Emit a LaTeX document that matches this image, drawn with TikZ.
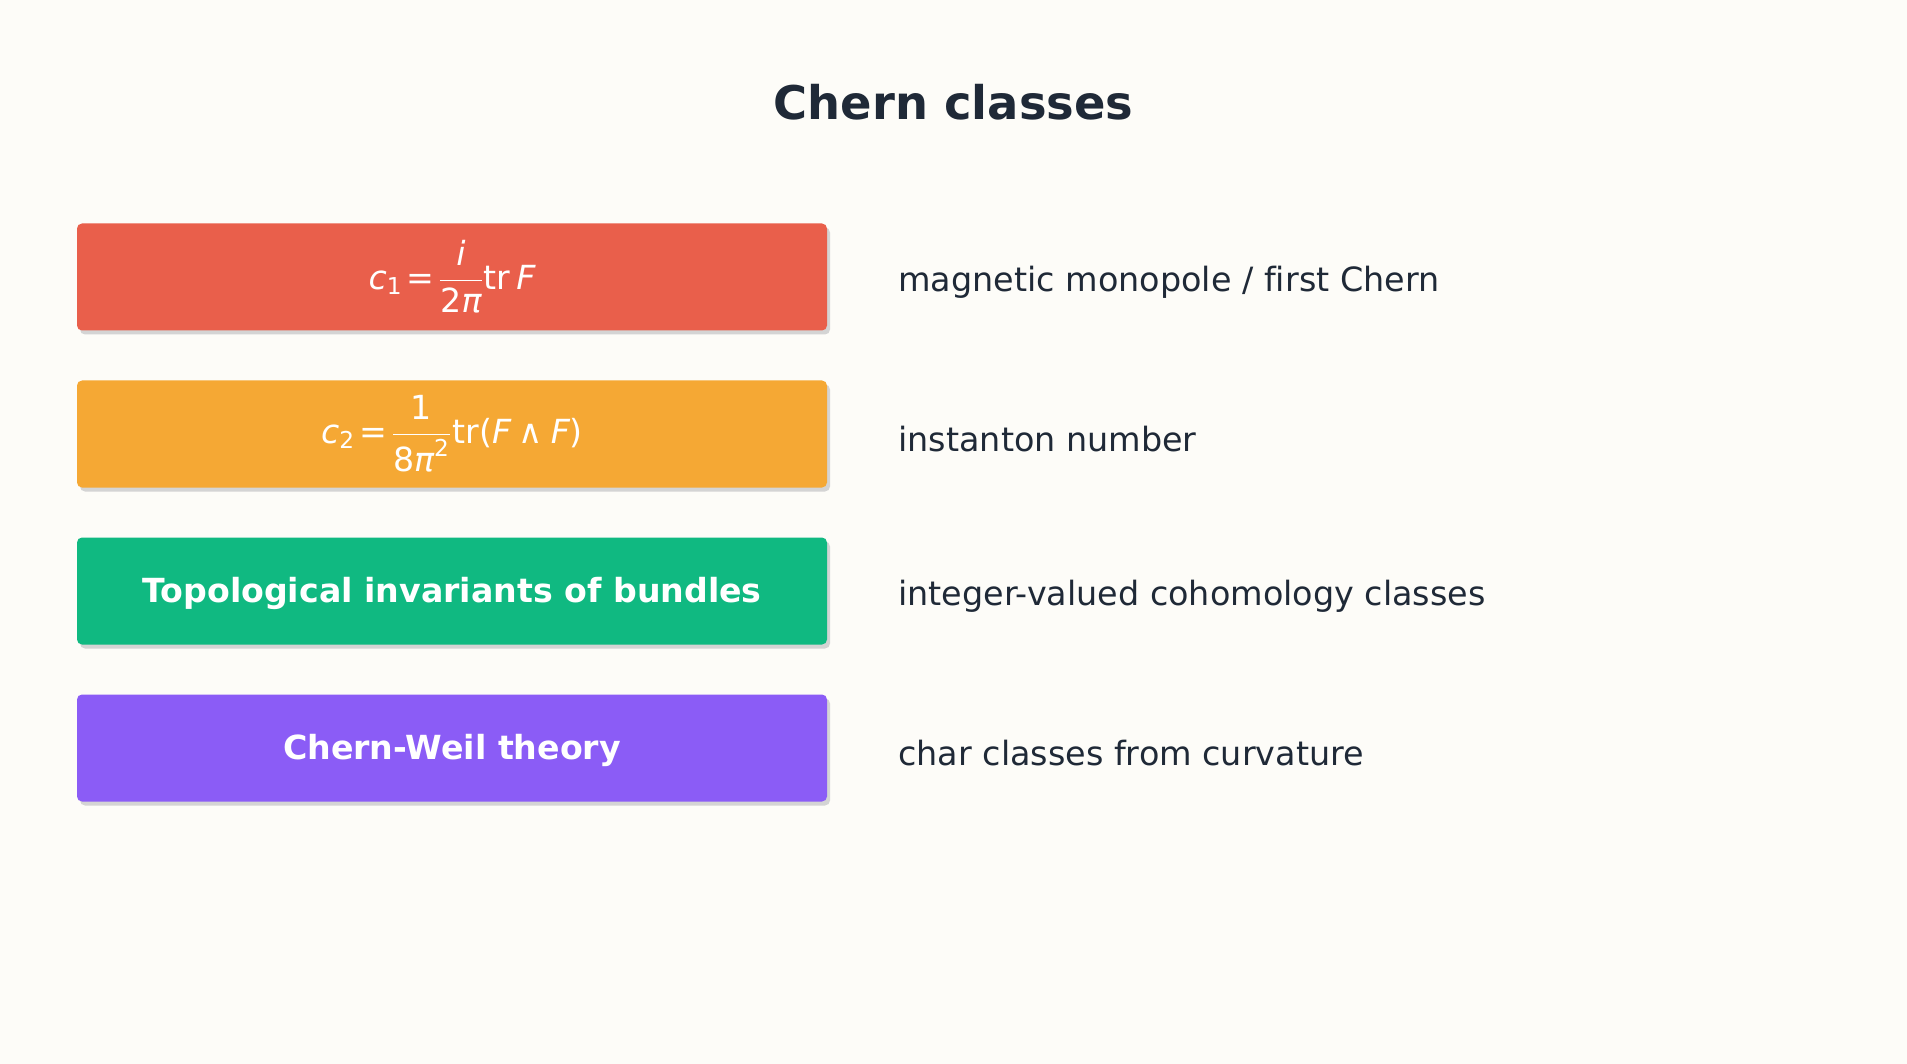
\documentclass[tikz,border=0pt]{standalone}
\usepackage{amsmath}
\usepackage{fontspec}
\setmainfont{DejaVu Sans}[Ligatures=NoCommon]
\usetikzlibrary{shadows}
\definecolor{bgc}{HTML}{FDFCF8}
\definecolor{ink}{HTML}{1F2937}
\definecolor{cred}{HTML}{E95F4B}
\definecolor{corange}{HTML}{F5A834}
\definecolor{cgreen}{HTML}{10B981}
\definecolor{cpurple}{HTML}{8B5CF6}
\definecolor{shadowgray}{HTML}{D4D4D4}
\newcommand{\mi}[1]{\text{\itshape #1}}
\newcommand{\myeq}{\mskip2mu\text{=}\mskip2mu}
\begin{document}
\begin{tikzpicture}[x=0.5pt,y=-0.5pt,
  box/.style={rounded corners=2.5pt, minimum width=375pt, minimum height=53.5pt, inner sep=0pt,
    text=white, font=\fontsize{16.6}{20}\selectfont\bfseries,
    drop shadow={shadow xshift=1.5pt, shadow yshift=-2pt, fill=shadowgray, opacity=1}},
  boxtext/.style={inner sep=0pt, text=white, font=\fontsize{16.6}{20}\selectfont\bfseries},
  mathtext/.style={inner sep=0pt, text=white, font=\fontsize{16.6}{20}\selectfont},
  desc/.style={anchor=west, inner sep=0pt, text=ink, font=\fontsize{16.7}{20}\selectfont}]
\fill[bgc] (0,0) rectangle (1907,1064);
\useasboundingbox (0,0) rectangle (1907,1064);
\node[text=ink, font=\fontsize{23.2}{28}\selectfont\bfseries] (title) at (953.5,102) {Chern classes};
\node[box, fill=cred] (b1) at (452,277) {};
\node[box, fill=corange] (b2) at (452,434) {};
\node[box, fill=cgreen] (b3) at (452,591) {};
\node[box, fill=cpurple] (b4) at (452,748) {};
\node[mathtext] (m1) at (452,277) {$\mi{c}_{\text{1}}\myeq\dfrac{\mi{i}}{\text{2\itshape π}}\text{tr}\,\mi{F}$};
\node[mathtext] (m2) at (452,434) {$\mi{c}_{\text{2}}\myeq\dfrac{\text{1}}{\text{8\itshape π}^{\text{2}}}\text{tr(}\mi{F}\mathbin{\text{∧}}\mi{F}\text{)}$};
\node[boxtext] (t3) at (452,593) {Topological invariants of bundles};
\node[boxtext] (t4) at (452,750) {Chern-Weil theory};
\node[desc] (d1) at (898,282.5) {magnetic monopole / first Chern};
\node[desc] (d2) at (898,439.5) {instanton number};
\node[desc] (d3) at (898,596.5) {integer-valued cohomology classes};
\node[desc] (d4) at (898,753.5) {char classes from curvature};
\end{tikzpicture}
\end{document}
